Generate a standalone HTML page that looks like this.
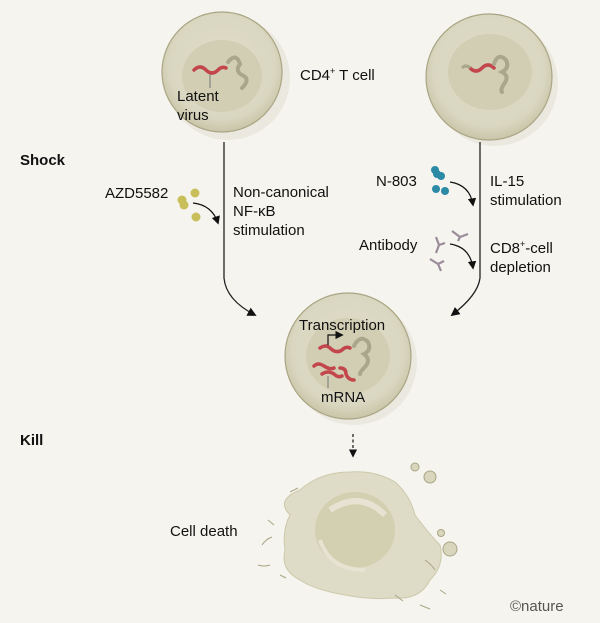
<!DOCTYPE html>
<html><head><meta charset="utf-8"><style>
html,body{margin:0;padding:0;background:#f5f4ee;}
svg{display:block;font-family:"Liberation Sans",sans-serif;}
</style></head><body>
<svg width="600" height="623" viewBox="0 0 600 623" xmlns="http://www.w3.org/2000/svg">
<defs>
<radialGradient id="cg" cx="0.5" cy="0.45" r="0.55">
<stop offset="0" stop-color="#dedbc7"/><stop offset="0.8" stop-color="#dad7c1"/><stop offset="1" stop-color="#c9c5a8"/>
</radialGradient>
<marker id="ah" viewBox="0 0 10 10" refX="8" refY="5" markerWidth="7" markerHeight="7" orient="auto"><path d="M0,0L10,5L0,10z" fill="#111"/></marker>
</defs>
<rect width="600" height="623" fill="#f5f4ee"/>

<!-- top-left cell -->
<circle cx="228" cy="78" r="62" fill="#ebe8df"/>
<circle cx="222" cy="72" r="60" fill="url(#cg)" stroke="#a9a584" stroke-width="1.2"/>
<ellipse cx="222" cy="76" rx="40" ry="36" fill="#d2ceb4"/>
<path d="M194,70 q6,-6 12,0 q6,6 12,0 q4,-4 8,-2" stroke="#c2464b" stroke-width="3.5" fill="none" stroke-linecap="round"/>
<path d="M228,62 q8,-10 12,2 q-6,8 4,12 q6,4 -2,12" stroke="#aaa68c" stroke-width="4" fill="none" stroke-linecap="round"/>
<line x1="210" y1="74" x2="210" y2="88" stroke="#777" stroke-width="1"/>
<text x="177" y="101" font-size="15" fill="#111">Latent</text>
<text x="177" y="120" font-size="15" fill="#111">virus</text>
<text x="300" y="80" font-size="15" fill="#111">CD4<tspan font-size="9" dy="-6">+</tspan><tspan dy="6"> T cell</tspan></text>

<!-- top-right cell -->
<circle cx="495" cy="83" r="63" fill="#ebe8df"/>
<circle cx="489" cy="77" r="63" fill="url(#cg)" stroke="#a9a584" stroke-width="1.2"/>
<ellipse cx="490" cy="72" rx="42" ry="38" fill="#d2ceb4"/>
<path d="M470,68 q6,6 12,0 q6,-6 12,0" stroke="#c2464b" stroke-width="3.5" fill="none" stroke-linecap="round"/>
<path d="M462,68 q4,-4 8,0" stroke="#aaa68c" stroke-width="3" fill="none"/>
<path d="M494,64 q4,-12 12,-4 q4,8 -4,12 q8,4 2,12 q-4,6 -2,8" stroke="#aaa68c" stroke-width="4" fill="none" stroke-linecap="round"/>

<text x="20" y="165" font-size="15" font-weight="bold" fill="#111">Shock</text>
<text x="20" y="445" font-size="15" font-weight="bold" fill="#111">Kill</text>

<!-- left pathway -->
<path d="M224,142 L224,278 Q226,300 255,315" stroke="#222" stroke-width="1.3" fill="none" marker-end="url(#ah)"/>
<text x="105" y="198" font-size="15" fill="#111">AZD5582</text>
<circle cx="195" cy="193" r="4.5" fill="#c9bf5a"/><circle cx="182" cy="200" r="4.5" fill="#c9bf5a"/><circle cx="184" cy="205" r="4.5" fill="#c9bf5a"/><circle cx="196" cy="217" r="4.5" fill="#c9bf5a"/>
<path d="M193,203 Q212,205 218,223" stroke="#111" stroke-width="1.2" fill="none" marker-end="url(#ah)"/>
<text x="233" y="197" font-size="15" fill="#111">Non-canonical</text>
<text x="233" y="216" font-size="15" fill="#111">NF-κB</text>
<text x="233" y="235" font-size="15" fill="#111">stimulation</text>

<!-- right pathway -->
<path d="M480,142 L480,278 Q478,295 452,315" stroke="#222" stroke-width="1.3" fill="none" marker-end="url(#ah)"/>
<text x="376" y="186" font-size="15" fill="#111">N-803</text>
<circle cx="435" cy="170" r="4" fill="#2d8aa6"/><circle cx="437" cy="174" r="4" fill="#2d8aa6"/><circle cx="441" cy="176" r="4" fill="#2d8aa6"/><circle cx="436" cy="189" r="4" fill="#2d8aa6"/><circle cx="445" cy="191" r="4" fill="#2d8aa6"/>
<path d="M450,182 Q470,185 473,205" stroke="#111" stroke-width="1.2" fill="none" marker-end="url(#ah)"/>
<text x="490" y="186" font-size="15" fill="#111">IL-15</text>
<text x="490" y="205" font-size="15" fill="#111">stimulation</text>
<text x="359" y="250" font-size="15" fill="#111">Antibody</text>
<g stroke="#9a8c99" stroke-width="2.2" fill="none">
<path d="M452,231 l8,6 l8,-3 M460,237 l-2,4"/>
<path d="M436,237 l3,8 l-3,8 M439,245 l6,-2"/>
<path d="M430,259 l8,5 l3,7 M438,264 l6,-3"/>
</g>
<path d="M450,244 Q470,247 473,268" stroke="#111" stroke-width="1.2" fill="none" marker-end="url(#ah)"/>
<text x="490" y="253" font-size="15" fill="#111">CD8<tspan font-size="9" dy="-6">+</tspan><tspan dy="6">-cell</tspan></text>
<text x="490" y="272" font-size="15" fill="#111">depletion</text>

<!-- middle cell -->
<circle cx="354" cy="362" r="63" fill="#ebe8df"/>
<circle cx="348" cy="356" r="63" fill="url(#cg)" stroke="#a9a584" stroke-width="1.2"/>
<ellipse cx="348" cy="356" rx="42" ry="38" fill="#d2ceb4"/>
<path d="M320,348 q6,-4 10,0 q6,6 12,2 q4,-4 8,-2" stroke="#c2464b" stroke-width="3.5" fill="none" stroke-linecap="round"/>
<path d="M354,346 q6,-12 14,-4 q4,8 -4,12 q8,6 0,14 q-4,4 -4,6" stroke="#aaa68c" stroke-width="4" fill="none" stroke-linecap="round"/>
<path d="M314,366 q4,-4 10,0 q6,4 10,2" stroke="#c2464b" stroke-width="3.5" fill="none" stroke-linecap="round"/>
<path d="M322,374 q6,-4 12,0 q4,4 8,2" stroke="#c2464b" stroke-width="3.5" fill="none" stroke-linecap="round"/>
<path d="M340,368 q6,0 6,6 q2,6 8,6" stroke="#c2464b" stroke-width="3.5" fill="none" stroke-linecap="round"/>
<path d="M328,345 v-10 h14" stroke="#111" stroke-width="1.2" fill="none" marker-end="url(#ah)"/>
<line x1="328" y1="376" x2="328" y2="388" stroke="#777" stroke-width="1"/>
<text x="299" y="330" font-size="15" fill="#111">Transcription</text>
<text x="321" y="402" font-size="15" fill="#111">mRNA</text>

<path d="M353,434 L353,456" stroke="#111" stroke-width="1.2" stroke-dasharray="3,2.5" fill="none" marker-end="url(#ah)"/>

<!-- dead cell -->
<path d="M300,490 Q320,472 350,472 Q375,470 395,482 Q410,495 415,515 Q430,535 440,545 Q445,565 430,580 Q420,600 395,598 Q370,600 345,595 Q315,590 300,580 Q280,570 285,550 Q282,530 290,515 Q275,500 300,490Z" fill="#dedbc6" stroke="#cdc9ac" stroke-width="1"/>
<ellipse cx="355" cy="530" rx="40" ry="38" fill="#d3cfb1"/>
<path d="M330,510 q30,-20 55,5" stroke="#e6e3d2" stroke-width="6" fill="none"/>
<path d="M320,540 q10,30 45,30" stroke="#e6e3d2" stroke-width="4" fill="none"/>
<circle cx="415" cy="467" r="4" fill="#d9d6be" stroke="#a9a584"/>
<circle cx="430" cy="477" r="6" fill="#d9d6be" stroke="#a9a584"/>
<circle cx="441" cy="533" r="3.5" fill="#d9d6be" stroke="#a9a584"/>
<circle cx="450" cy="549" r="7" fill="#d9d6be" stroke="#a9a584"/>
<g stroke="#a9a584" stroke-width="1" fill="none">
<path d="M268,520 l6,5"/><path d="M290,492 l8,-4"/><path d="M262,545 q4,-6 10,-8"/><path d="M258,565 q6,2 12,0"/><path d="M280,575 l6,3"/><path d="M395,595 l8,6"/><path d="M420,605 l10,4"/><path d="M440,590 l6,4"/><path d="M425,560 q6,4 10,10"/>
</g>
<text x="170" y="536" font-size="15" fill="#111">Cell death</text>
<text x="510" y="611" font-size="15" fill="#555">©nature</text>
</svg>
</body></html>
